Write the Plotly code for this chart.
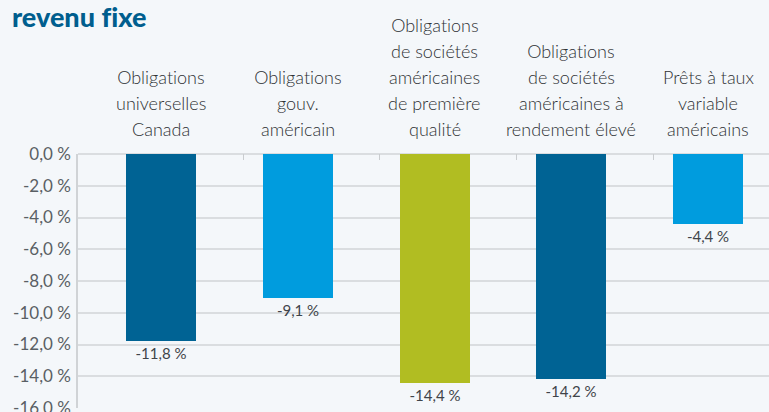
import plotly.graph_objects as go

categories = [
    "Obligations\nuniverselles\nCanada",
    "Obligations\ngouv.\naméricain",
    "Obligations\nde sociétés\naméricaines\nde première\nqualité",
    "Obligations\nde sociétés\naméricaines à\nrendement élevé",
    "Prêts à taux\nvariable\naméricains",
]
values = [-11.8, -9.1, -14.4, -14.2, -4.4]
bar_colors = ["#006394", "#009CDE", "#B1BD22", "#006394", "#009CDE"]
y_tickvals = [0, -2, -4, -6, -8, -10, -12, -14, -16]
y_ticktext = ["0,0 %", "-2,0 %", "-4,0 %", "-6,0 %", "-8,0 %", "-10,0 %", "-12,0 %", "-14,0 %", "-16,0 %"]
title_text = "revenu fixe"

xs = list(range(len(categories)))
labels = [f"{v:.1f} %".replace(".", ",") for v in values]

fig = go.Figure()
fig.add_trace(go.Bar(
    x=xs, y=values, width=0.512,
    marker=dict(color=bar_colors, line=dict(width=0)),
    text=labels, textposition="outside", cliponaxis=False,
    textfont=dict(family="Lato", size=15, color="#3F4449"),
    hoverinfo="skip",
))

annotations = []
for i, cat in enumerate(categories):
    lines = cat.split("\n")
    for k, line in enumerate(reversed(lines)):
        annotations.append(dict(
            x=i, xref="x", y=1, yref="paper", text=line, showarrow=False,
            xanchor="center", yanchor="middle", yshift=25 + 26 * k,
            font=dict(family="Lato", size=18, color="#2F3235", weight=300),
        ))

fig.update_layout(
    width=769, height=412,
    margin=dict(l=78, r=0, t=154, b=4, autoexpand=False),
    paper_bgcolor="#F4F7FA", plot_bgcolor="#F4F7FA",
    showlegend=False,
    bargap=0,
    annotations=annotations,
    title=dict(text=title_text, x=12 / 769, xanchor="left", xref="container",
               y=1 - 18 / 412, yanchor="middle", yref="container",
               font=dict(family="Lato", size=27, weight=900, color="#005E8E")),
    xaxis=dict(range=[-0.607, 4.446], side="top", showgrid=False, zeroline=False,
               showline=False, tickvals=[0.6, 1.6, 2.6, 3.6], ticks="inside",
               ticklen=6, tickcolor="#C9CCCF", tickwidth=1, showticklabels=False,
               automargin=False),
    yaxis=dict(range=[-16, 0], tickvals=y_tickvals, ticktext=y_ticktext,
               showgrid=True, gridcolor="#DADDE0", gridwidth=1.5,
               zeroline=True, zerolinecolor="#DADDE0", zerolinewidth=1.5,
               showline=True, linecolor="#D0D3D6", linewidth=1.5,
               ticks="", ticklabelstandoff=2, automargin=False,
               ticklabeloverflow="allow",
               tickfont=dict(family="Lato", size=17, color="#5A5F64")),
)

post_js = (
    "var s=document.createElement('style');"
    "s.textContent='html,body{margin:0;padding:0;background:#F4F7FA;}"
    "svg text{font-variant-ligatures:none !important;"
    "font-feature-settings:\"liga\" 0,\"clig\" 0 !important;}';"
    "document.head.appendChild(s);"
)
fig.write_html("out.html", post_script=post_js, config={"displayModeBar": False})
